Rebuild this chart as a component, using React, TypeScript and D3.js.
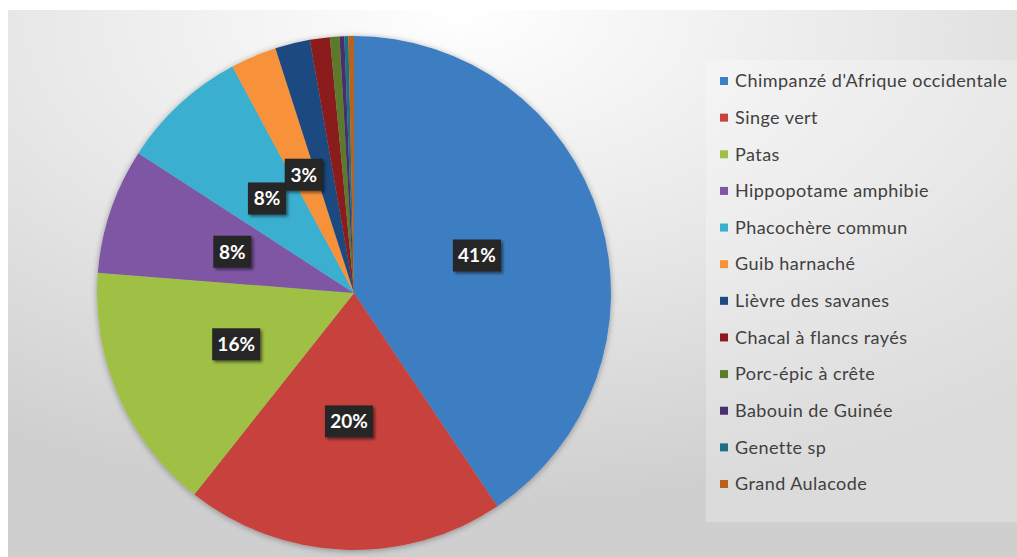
import React from "react";
import * as d3 from "d3";

const categories = [
  "Chimpanzé d'Afrique occidentale",
  "Singe vert",
  "Patas",
  "Hippopotame amphibie",
  "Phacochère commun",
  "Guib harnaché",
  "Lièvre des savanes",
  "Chacal à flancs rayés",
  "Porc-épic à crête",
  "Babouin de Guinée",
  "Genette sp",
  "Grand Aulacode",
];
const values = [40.6, 20.1, 15.6, 7.9, 8.0, 2.9, 2.2, 1.25, 0.6, 0.3, 0.25, 0.35];
const colors = [
  "#3E7EC3", "#C8423E", "#A0BF45", "#7E56A4", "#3AAFD0", "#F7923A",
  "#1D4A7F", "#8A1A1E", "#5B7A2A", "#4A2F6E", "#1E6F84", "#B8621C",
];

const W = 1017;
const H = 557;

export default function App() {
  const cx = 354;
  const cy = 293;
  const R = 257;
  const total = d3.sum(values);
  const pie = d3.pie<number>().sort(null).value((d) => d);
  const arcs = pie(values);
  const arc = d3.arc<d3.PieArcDatum<number>>().innerRadius(0).outerRadius(R);
  const legendY = d3.scalePoint<number>().domain(d3.range(categories.length)).range([81, 484]);

  return (
    <div style={{ position: "fixed", left: 0, top: 0 }}>
      <svg width={W} height={H} style={{ display: "block" }}>
        <defs>
          <radialGradient id="bg" cx="0.45" cy="0.05" r="0.85" fx="0.45" fy="0.0">
            <stop offset="0" stopColor="#ffffff" />
            <stop offset="0.55" stopColor="#e6e6e6" />
            <stop offset="1" stopColor="#cfcfcf" />
          </radialGradient>
          <filter id="shadow" x="-20%" y="-20%" width="140%" height="140%">
            <feGaussianBlur in="SourceAlpha" stdDeviation="3" />
            <feOffset dx="0" dy="1" />
            <feComponentTransfer>
              <feFuncA type="linear" slope="0.35" />
            </feComponentTransfer>
            <feMerge>
              <feMergeNode />
              <feMergeNode in="SourceGraphic" />
            </feMerge>
          </filter>
          <filter id="lblshadow" x="-30%" y="-30%" width="160%" height="160%">
            <feGaussianBlur in="SourceAlpha" stdDeviation="1.5" />
            <feOffset dx="1.5" dy="1.5" />
            <feComponentTransfer>
              <feFuncA type="linear" slope="0.5" />
            </feComponentTransfer>
            <feMerge>
              <feMergeNode />
              <feMergeNode in="SourceGraphic" />
            </feMerge>
          </filter>
        </defs>
        <rect x={0} y={0} width={W} height={H} fill="#ffffff" />
        <rect x={8} y={10} width={W - 8} height={H - 10} fill="url(#bg)" />
        <rect x={706} y={60} width={W - 706} height={462} fill="#ffffff" opacity={0.25} />

        <g transform={`translate(${cx},${cy})`} filter="url(#shadow)">
          {arcs.map((a, i) => (
            <path key={i} d={arc(a) || ""} fill={colors[i]} />
          ))}
        </g>

        <g transform={`translate(${cx},${cy})`}>
          {arcs.map((a, i) => {
            const pct = Math.round((values[i] / total) * 100);
            if (pct < 3) return null;
            const [x, y] = arc.centroid(a);
            const label = `${pct}%`;
            const bw = label.length === 3 ? 48 : 38;
            return (
              <g key={i} transform={`translate(${x},${y})`}>
                <rect x={-bw / 2} y={-16} width={bw} height={32} fill="#262626" filter="url(#lblshadow)" />
                <text
                  x={0}
                  y={0}
                  dy="0.36em"
                  textAnchor="middle"
                  fill="#ffffff"
                  fontFamily="Lato, 'Open Sans', sans-serif"
                  fontWeight="bold"
                  fontSize={19}
                >
                  {label}
                </text>
              </g>
            );
          })}
        </g>

        <g>
          {categories.map((c, i) => (
            <g key={c} transform={`translate(720,${legendY(i)})`}>
              <rect x={0} y={-4} width={8} height={8} fill={colors[i]} />
              <text
                x={15}
                y={0}
                dy="0.35em"
                fill="#404040"
                fontFamily="Lato, 'Open Sans', sans-serif"
                fontSize={18}
                letterSpacing={0.45}
              >
                {c}
              </text>
            </g>
          ))}
        </g>
      </svg>
    </div>
  );
}
